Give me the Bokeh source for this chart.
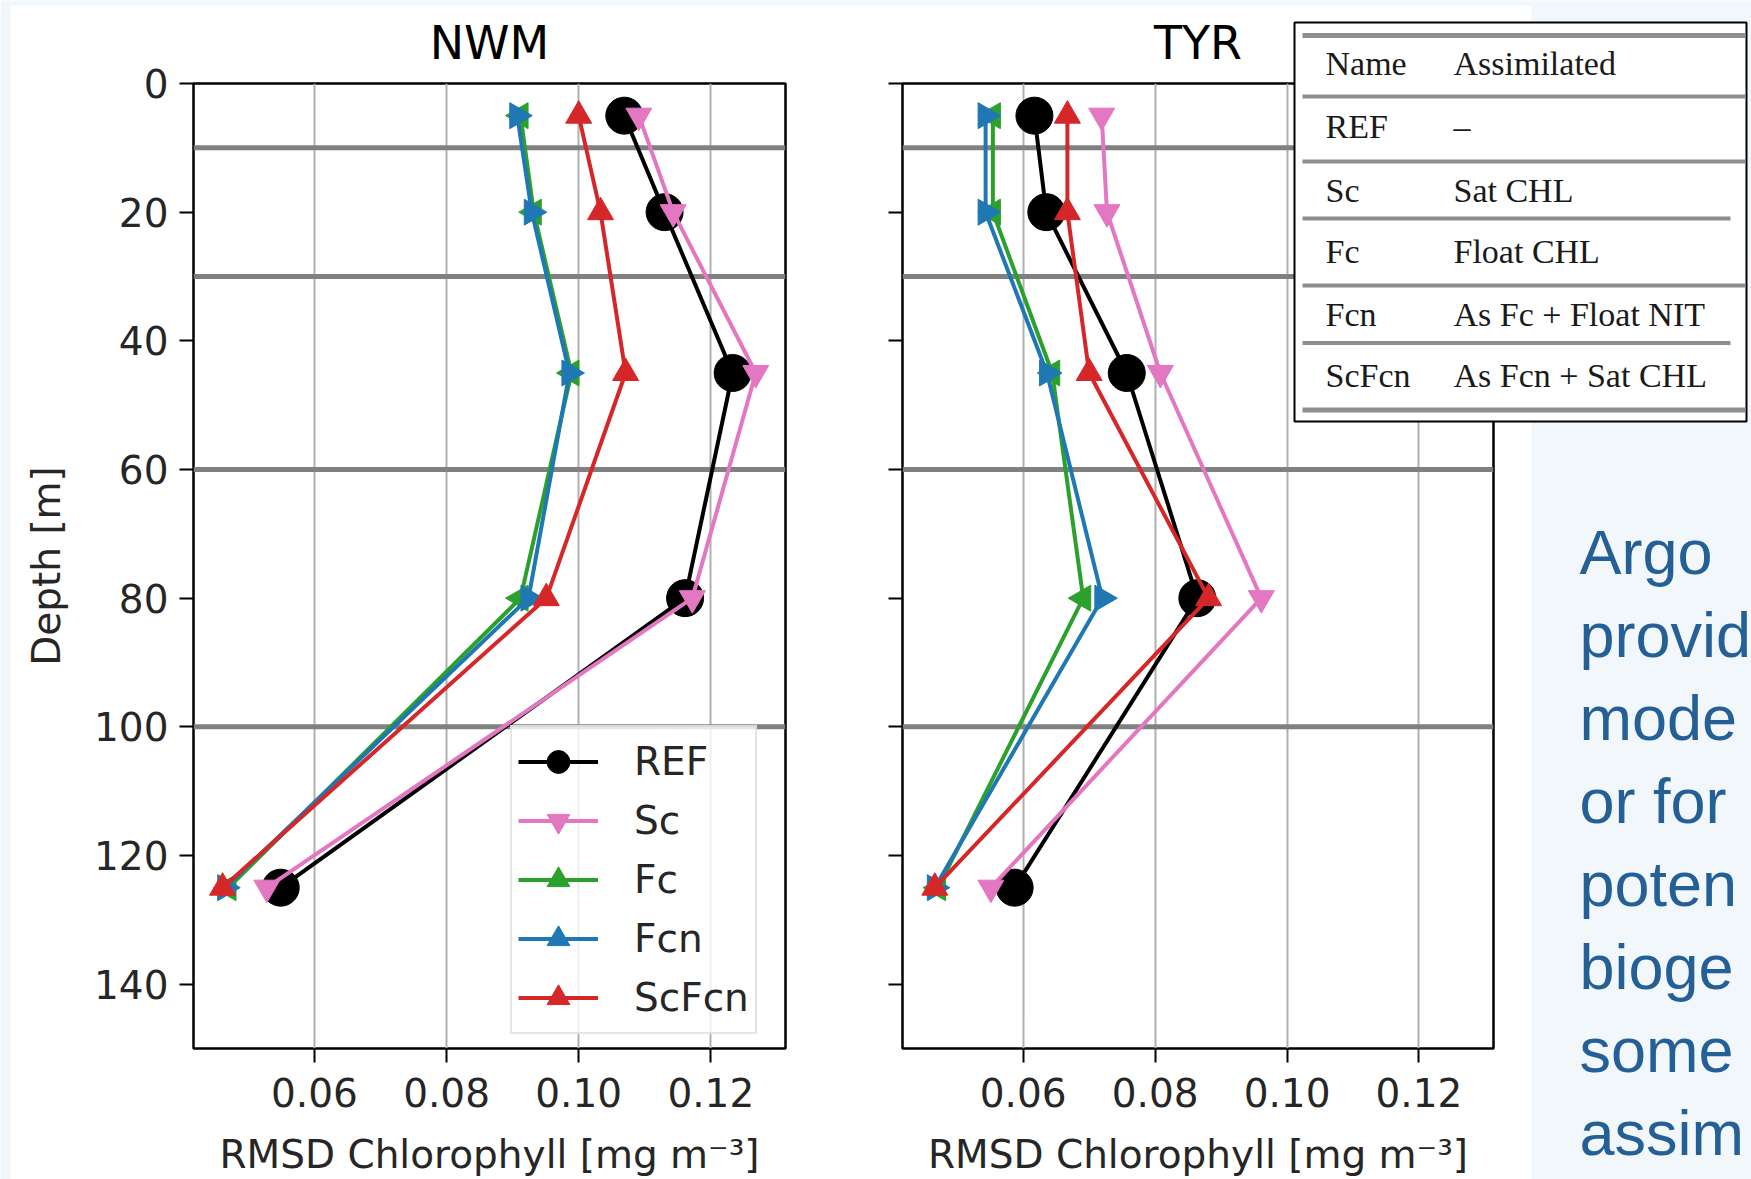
import math
from bokeh.plotting import figure
from bokeh.models import (Range1d, FixedTicker, NumeralTickFormatter, Legend, LegendItem,
                          Span, GridBox)
from bokeh.layouts import row
from bokeh.core.properties import value
from bokeh.embed import file_html
from bokeh.resources import INLINE

# ---------------- data ----------------
depth = [5, 20, 45, 80, 125]
layer_bounds = [10, 30, 60, 100]
series = ["REF", "Sc", "Fc", "Fcn", "ScFcn"]

nwm_REF = [0.1069, 0.1130, 0.1233, 0.1161, 0.0549]
nwm_Sc = [0.1091, 0.1143, 0.1268, 0.1172, 0.0528]
nwm_Fc = [0.0912, 0.0932, 0.0989, 0.0912, 0.0470]
nwm_Fcn = [0.0907, 0.0929, 0.0986, 0.0924, 0.0465]
nwm_ScFcn = [0.1000, 0.1033, 0.1071, 0.0951, 0.0461]

tyr_REF = [0.0617, 0.0635, 0.0757, 0.0864, 0.0587]
tyr_Sc = [0.0719, 0.0727, 0.0808, 0.0961, 0.0551]
tyr_Fc = [0.0554, 0.0554, 0.0644, 0.0691, 0.0471]
tyr_Fcn = [0.0543, 0.0543, 0.0636, 0.0720, 0.0466]
tyr_ScFcn = [0.0667, 0.0667, 0.0700, 0.0881, 0.0466]

x_ticks = [0.06, 0.08, 0.10, 0.12]
y_ticks = [0, 20, 40, 60, 80, 100, 120, 140]
x_limits = [0.0417, 0.1313]
y_limits = [150, 0]

table_header = ["Name", "Assimilated"]
table_names = ["REF", "Sc", "Fc", "Fcn", "ScFcn"]
table_assimilated = ["\u2013", "Sat CHL", "Float CHL", "As Fc + Float NIT", "As Fcn + Sat CHL"]
slide_lines = ["Argo", "provid", "mode", "or for", "poten", "bioge", "some", "assim"]

# ---------------- styles / layout ----------------
COLORS = {"REF": "black", "Sc": "#e377c2", "Fc": "#2ca02c", "Fcn": "#1f77b4", "ScFcn": "#d62728"}
MARKERS = {"REF": ("circle", 0.0, 37), "Sc": ("inverted_triangle", 0.0, 26),
           "Fc": ("triangle", math.pi / 2, 26), "Fcn": ("triangle", -math.pi / 2, 26),
           "ScFcn": ("triangle", 0.0, 26)}
FONT = "DejaVu Sans"
PAGE_W, PAGE_H = 1751, 1179
W1 = 843


def make_panel(title, values, width, mbl, mbr, show_ylabels):
    p = figure(width=width, height=PAGE_H, x_range=Range1d(*x_limits), y_range=Range1d(*y_limits),
               title=title, output_backend="svg", toolbar_location=None,
               min_border_left=mbl, min_border_right=mbr, min_border_top=82, min_border_bottom=126,
               background_fill_color="white", border_fill_color="white",
               outline_line_color="black", outline_line_width=2.5)
    p.title.align = "center"
    p.title.text_font = FONT
    p.title.text_font_size = "46px"
    p.title.text_font_style = "normal"
    p.title.text_color = "black"
    p.title.standoff = 27

    p.xaxis.ticker = FixedTicker(ticks=x_ticks)
    p.xaxis.formatter = NumeralTickFormatter(format="0.00")
    p.yaxis.ticker = FixedTicker(ticks=y_ticks)
    for ax in (p.xaxis, p.yaxis):
        ax.axis_line_color = None
        ax.major_tick_line_color = "black"
        ax.major_tick_line_width = 2
        ax.major_tick_in = 0
        ax.major_tick_out = 14
        ax.minor_tick_line_color = None
        ax.major_label_text_font = FONT
        ax.major_label_text_font_size = "39px"
        ax.major_label_text_color = "#262626"
        ax.axis_label_text_font = FONT
        ax.axis_label_text_font_size = "39px"
        ax.axis_label_text_font_style = "normal"
        ax.axis_label_text_color = "#262626"
    p.xaxis.major_label_standoff = 15
    p.yaxis.major_label_standoff = 11
    p.xaxis.axis_label = "RMSD Chlorophyll [mg m\u207b\u00b3]"
    p.xaxis.axis_label_standoff = 22
    if show_ylabels:
        p.yaxis.axis_label = "Depth [m]"
        p.yaxis.axis_label_standoff = 22
    else:
        p.yaxis.major_label_overrides = {t: "" for t in y_ticks}

    p.xgrid.ticker = FixedTicker(ticks=x_ticks)
    p.xgrid.grid_line_color = "#b0b0b0"
    p.xgrid.grid_line_width = 2
    p.ygrid.grid_line_color = None

    for v in layer_bounds:
        p.add_layout(Span(location=v, dimension="width", line_color="#808080",
                          line_width=5, level="underlay"))

    items = []
    for name in series:
        c = COLORS[name]
        m, ang, sz = MARKERS[name]
        r1 = p.line(values[name], depth, line_color=c, line_width=4)
        r2 = p.scatter(values[name], depth, marker=m, angle=ang, size=sz,
                       fill_color=c, line_color=c)
        items.append(LegendItem(label=name, renderers=[r1, r2]))
    return p, items


nwm_vals = {"REF": nwm_REF, "Sc": nwm_Sc, "Fc": nwm_Fc, "Fcn": nwm_Fcn, "ScFcn": nwm_ScFcn}
tyr_vals = {"REF": tyr_REF, "Sc": tyr_Sc, "Fc": tyr_Fc, "Fcn": tyr_Fcn, "ScFcn": tyr_ScFcn}

p1, items = make_panel("NWM", nwm_vals, W1, 193, 58, True)
legend = Legend(items=items, location=(317, 14), label_text_font=FONT, label_text_font_size="39px",
                label_text_color="#262626", glyph_width=80, glyph_height=57, label_height=57,
                spacing=2, padding=6, label_standoff=36, margin=0,
                border_line_color="#cccccc", border_line_width=2,
                background_fill_color="white", background_fill_alpha=0.8)
p1.add_layout(legend)

p2, _ = make_panel("TYR", tyr_vals, PAGE_W - W1, 59, PAGE_W - W1 - 59 - 591, False)

# ---------------- overlay: slide background, table and slide text ----------------
ov = figure(width=PAGE_W, height=PAGE_H, x_range=Range1d(0, PAGE_W), y_range=Range1d(PAGE_H, 0),
            x_axis_type=None, y_axis_type=None, output_backend="svg", toolbar_location=None,
            min_border=0, outline_line_color=None,
            background_fill_color=None, border_fill_color=None)
ov.title.visible = False

SLIDE_BG = "#f2f7fc"
# slide background around the chart picture
ov.quad(left=[0, 0, 1531], right=[10, PAGE_W, PAGE_W], top=[0, 0, 0], bottom=[PAGE_H, 5, PAGE_H],
        fill_color=SLIDE_BG, line_color=None)

# table picture
ov.quad(left=[1294], right=[1746], top=[22], bottom=[421],
        fill_color="white", line_color="black", line_width=2)
rule_y = [35, 96, 161, 218, 285, 342.5, 409.5]
rule_right = [1745, 1745, 1745, 1730, 1745, 1730, 1745]
rule_th = [5, 4, 4, 4, 4, 4, 5]
ov.quad(left=[1302] * len(rule_y), right=rule_right,
        top=[y - t / 2 for y, t in zip(rule_y, rule_th)],
        bottom=[y + t / 2 for y, t in zip(rule_y, rule_th)],
        fill_color="#8e8e8e", line_color=None)

row_y = [63, 126, 190, 251, 314, 375]
col1 = [table_header[0]] + table_names
col2 = [table_header[1]] + table_assimilated
ov.text(x=[1325] * len(col1) + [1453] * len(col2), y=row_y + row_y, text=col1 + col2,
        text_font=value("Liberation Serif"), text_font_size=value("34px"),
        text_color="#1a1a1a", text_baseline="middle", text_align="left")

# slide body text (cut by the picture edge in the reference)
slide_baselines = [573, 656, 739, 822, 905, 988, 1071, 1154]
SLIDE_FS = 63
ov.text(x=[1579] * len(slide_lines), y=[b - 0.3465 * SLIDE_FS for b in slide_baselines],
        text=slide_lines,
        text_font=value("Liberation Sans"), text_font_size=value(f"{SLIDE_FS}px"),
        text_color="#245f96", text_baseline="middle", text_align="left")

charts = row(p1, p2)
layout = GridBox(children=[(charts, 0, 0), (ov, 0, 0)])
open("out.html", "w").write(file_html(layout, INLINE))
